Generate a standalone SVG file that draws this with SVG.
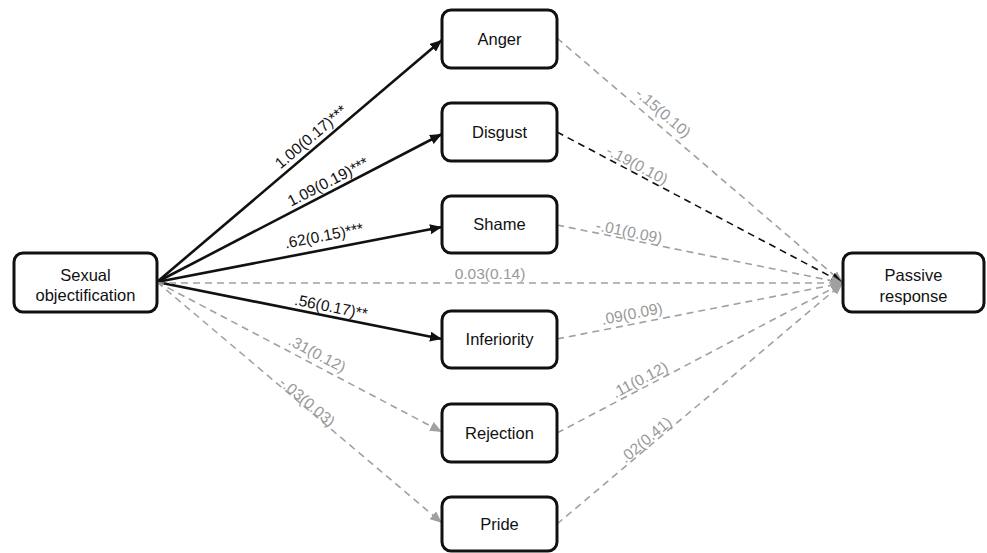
<svg xmlns="http://www.w3.org/2000/svg" width="987" height="553" viewBox="0 0 987 553">
<style>
.box{fill:#fff;stroke:#111;stroke-width:3}
.nt{font-family:"Liberation Sans",Arial,sans-serif;font-size:16.5px;fill:#111;text-anchor:middle}
.solid{stroke:#111;stroke-width:2.6;fill:none}
.dg{stroke:#a0a0a0;stroke-width:1.6;stroke-dasharray:7,5;fill:none}
.db{stroke:#111;stroke-width:1.6;stroke-dasharray:7,5;fill:none}
.lb{font-family:"Liberation Sans",Arial,sans-serif;font-size:15.5px;text-anchor:middle}
.lk{fill:#111}
.lg{fill:#999}
</style>
<defs>
<marker id="ab" markerUnits="userSpaceOnUse" markerWidth="12" markerHeight="10" refX="12" refY="5" orient="auto"><path d="M0,0 L12,5 L0,10 z" fill="#111"/></marker>
<marker id="ag" markerUnits="userSpaceOnUse" markerWidth="12" markerHeight="10" refX="12" refY="5" orient="auto"><path d="M0,0 L12,5 L0,10 z" fill="#a0a0a0"/></marker>
</defs>
<g id="connectors">
<line class="solid" x1="157" y1="282" x2="442" y2="40" marker-end="url(#ab)"/>
<line class="solid" x1="157" y1="282" x2="442" y2="134" marker-end="url(#ab)"/>
<line class="solid" x1="157" y1="282" x2="442" y2="227" marker-end="url(#ab)"/>
<line class="solid" x1="157" y1="282" x2="442" y2="339" marker-end="url(#ab)"/>
<line class="dg" x1="157" y1="282" x2="442" y2="432" marker-end="url(#ag)"/>
<line class="dg" x1="157" y1="282" x2="442" y2="523" marker-end="url(#ag)"/>
<line class="dg" x1="157" y1="283" x2="843" y2="283" marker-end="url(#ag)"/>
<line class="dg" x1="557" y1="38" x2="843" y2="283" marker-end="url(#ag)"/>
<line class="db" x1="557" y1="132" x2="843" y2="283" marker-end="url(#ab)"/>
<line class="dg" x1="557" y1="225" x2="843" y2="283" marker-end="url(#ag)"/>
<line class="dg" x1="557" y1="339" x2="843" y2="283" marker-end="url(#ag)"/>
<line class="dg" x1="557" y1="433" x2="843" y2="283" marker-end="url(#ag)"/>
<line class="dg" x1="557" y1="524" x2="843" y2="283" marker-end="url(#ag)"/>
<text class="lb lk" transform="translate(311,137) rotate(-40.3)" y="5">1.00(0.17)***</text>
<text class="lb lk" transform="translate(328,182) rotate(-27.4)" y="5">1.09(0.19)***</text>
<text class="lb lk" transform="translate(324,236) rotate(-11)" y="5">.62(0.15)***</text>
<text class="lb lk" transform="translate(331,307) rotate(11.3)" y="5">.56(0.17)**</text>
<text class="lb lg" transform="translate(317,354) rotate(27.5)" y="5">.31(0.12)</text>
<text class="lb lg" transform="translate(307,402) rotate(40.2)" y="5">-.03(0.03)</text>
<text class="lb lg" transform="translate(490,274)" y="5">0.03(0.14)</text>
<text class="lb lg" transform="translate(663,113) rotate(40.6)" y="5">-.15(0.10)</text>
<text class="lb lg" transform="translate(637,165) rotate(27.8)" y="5">-.19(0.10)</text>
<text class="lb lg" transform="translate(629,232) rotate(11.5)" y="5">-.01(0.09)</text>
<text class="lb lg" transform="translate(632,314) rotate(-11.1)" y="5">.09(0.09)</text>
<text class="lb lg" transform="translate(640,380) rotate(-27.7)" y="5">.11(0.12)</text>
<text class="lb lg" transform="translate(646,440) rotate(-40.2)" y="5">.02(0.41)</text>
</g>
<g id="sexual-objectification"><rect class="box" x="14" y="253" width="143" height="59" rx="9"/><text class="nt" x="85.5" y="281">Sexual</text><text class="nt" x="85.5" y="301">objectification</text></g>
<g id="anger"><rect class="box" x="442" y="10" width="115" height="58" rx="9"/><text class="nt" x="499.5" y="45">Anger</text></g>
<g id="disgust"><rect class="box" x="442" y="103" width="115" height="58" rx="9"/><text class="nt" x="499.5" y="138">Disgust</text></g>
<g id="shame"><rect class="box" x="442" y="196" width="115" height="57" rx="9"/><text class="nt" x="499.5" y="230">Shame</text></g>
<g id="inferiority"><rect class="box" x="442" y="311" width="115" height="57" rx="9"/><text class="nt" x="499.5" y="345">Inferiority</text></g>
<g id="rejection"><rect class="box" x="442" y="404" width="115" height="58" rx="9"/><text class="nt" x="499.5" y="439">Rejection</text></g>
<g id="pride"><rect class="box" x="442" y="497" width="115" height="54" rx="9"/><text class="nt" x="499.5" y="530">Pride</text></g>
<g id="passive-response"><rect class="box" x="843" y="253" width="141" height="59" rx="9"/><text class="nt" x="913.5" y="281">Passive</text><text class="nt" x="913.5" y="302">response</text></g>
</svg>
